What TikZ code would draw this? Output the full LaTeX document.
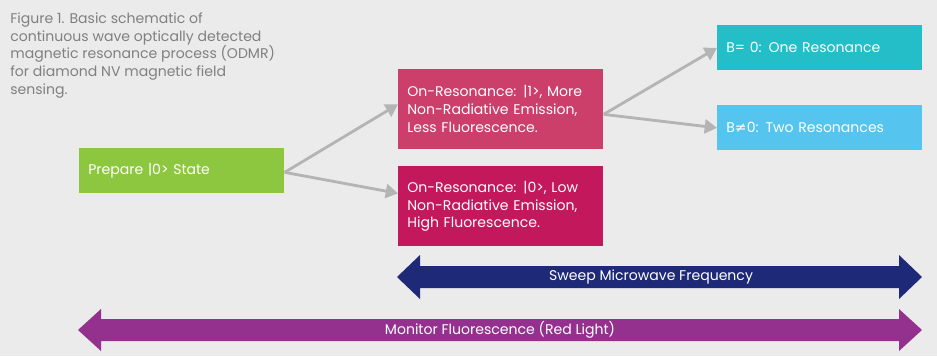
\documentclass[tikz,border=0pt]{standalone}
\usepackage{fontspec}
\setmainfont{Poppins}
\newfontfamily\symfont{DejaVu Sans}
\usetikzlibrary{arrows.meta}

\definecolor{bgGray}{HTML}{EBEBEB}
\definecolor{prepGreen}{HTML}{8DC63F}
\definecolor{moreRose}{HTML}{CB3F6A}
\definecolor{lowMagenta}{HTML}{C4185D}
\definecolor{oneTeal}{HTML}{23BEC8}
\definecolor{twoBlue}{HTML}{55C4EF}
\definecolor{sweepNavy}{HTML}{1E2A78}
\definecolor{monPurple}{HTML}{94318F}
\definecolor{linkGray}{HTML}{B4B4B4}
\definecolor{titleGray}{HTML}{808080}

\tikzset{
  statebox/.style={fill=#1, text=white, anchor=north west, inner sep=0.18cm,
    minimum width=4.1cm, text width=3.74cm, align=left, font=\fontsize{8}{10.2}\selectfont},
  link/.style={draw=linkGray, line width=1.6pt, -{Triangle[length=7pt,width=8pt]}},
  bandlabel/.style={text=white, font=\fontsize{8}{10}\selectfont},
}

\begin{document}
\begin{tikzpicture}[x=0.02cm, y=-0.02cm]
    \fill[bgGray] (0,0) rectangle (937,356);
    \useasboundingbox (0,0) rectangle (937,356);

    % caption
    \node[anchor=north west, inner sep=0pt, align=left, text=titleGray,
      font=\fontsize{8}{10.2}\selectfont] (caption) at (10,12)
      {Figure 1. Basic schematic of\\continuous wave optically detected\\magnetic resonance process (ODMR)\\for diamond NV magnetic field\\sensing.};

    % states
    \node[statebox=prepGreen, minimum height=0.9cm] (prep) at (79,148) {Prepare |0> State};
    \node[statebox=moreRose, minimum height=1.6cm] (more) at (398,69)
      {On-Resonance: |1>, More Non-Radiative Emission, Less Fluorescence.};
    \node[statebox=lowMagenta, minimum height=1.6cm] (low) at (398,166)
      {On-Resonance: |0>, Low Non-Radiative Emission, High Fluorescence.};
    \node[statebox=oneTeal, minimum height=0.9cm] (one) at (717,25) {B= 0: One Resonance};
    \node[statebox=twoBlue, minimum height=0.9cm] (two) at (717,105) {B{\symfont≠}0: Two Resonances};

    % links
    \draw[link] ([yshift=-0.03cm]prep.east) -- ([yshift=0.1cm]more.west);
    \draw[link] ([yshift=-0.03cm]prep.east) -- ([yshift=0.26cm]low.west);
    \draw[link] ([yshift=-0.1cm]more.east) -- (one.west);
    \draw[link] ([yshift=-0.1cm]more.east) -- (two.west);

    % sweep and monitor bands
    \fill[sweepNavy] (397,277) -- (420,255) -- (420,266) -- (899,266) -- (899,255)
      -- (922,277) -- (899,299) -- (899,288) -- (420,288) -- (420,299) -- cycle;
    \node[bandlabel] (sweep) at (651,277) {Sweep Microwave Frequency};

    \fill[monPurple] (78,330) -- (101,309) -- (101,319) -- (899,319) -- (899,309)
      -- (922,330) -- (899,351) -- (899,341) -- (101,341) -- (101,351) -- cycle;
    \node[bandlabel] (monitor) at (500,330) {Monitor Fluorescence (Red Light)};
  \end{tikzpicture}
\end{document}
